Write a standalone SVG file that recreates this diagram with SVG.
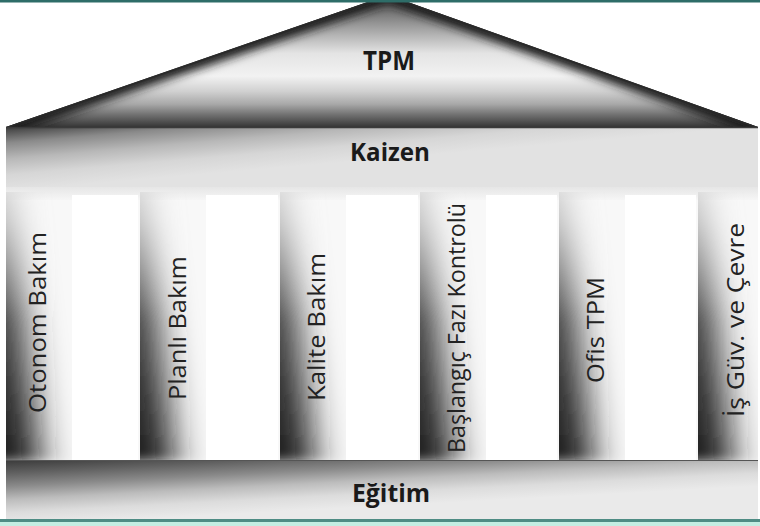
<svg xmlns="http://www.w3.org/2000/svg" width="760" height="526" viewBox="0 0 760 526">
  <style>
    .lbl { font-family: "Open Sans", "Noto Sans", "DejaVu Sans", sans-serif; font-size: 24px; fill: #222222; text-anchor: middle; }
    .hd { font-family: "Open Sans", "Noto Sans", "DejaVu Sans", sans-serif; font-weight: bold; fill: #1a1a1a; text-anchor: middle; }
    .shade { fill: url(#pillarShade); }
  </style>
  <defs>
    <linearGradient id="roofV" gradientUnits="userSpaceOnUse" x1="0" y1="0" x2="0" y2="127">
      <stop offset="0" stop-color="#555555"/>
      <stop offset="0.2" stop-color="#9a9a9a"/>
      <stop offset="0.42" stop-color="#e4e4e4"/>
      <stop offset="0.6" stop-color="#f2f2f2"/>
      <stop offset="0.72" stop-color="#d0d0d0"/>
      <stop offset="0.82" stop-color="#a8a8a8"/>
      <stop offset="0.9" stop-color="#737373"/>
      <stop offset="1" stop-color="#363636"/>
    </linearGradient>
    <clipPath id="roofClip">
      <polygon points="6,127 388,-5 758,127"/>
    </clipPath>
    <filter id="blur" filterUnits="userSpaceOnUse" x="-20" y="-40" width="800" height="200">
      <feGaussianBlur stdDeviation="5"/>
    </filter>

    <linearGradient id="kaizenG" gradientUnits="userSpaceOnUse" x1="6" y1="127" x2="11.43" y2="190.5">
      <stop offset="0" stop-color="#3c3c3c"/>
      <stop offset="0.25" stop-color="#8a8a8a"/>
      <stop offset="0.5" stop-color="#b8b8b8"/>
      <stop offset="0.75" stop-color="#d6d6d6"/>
      <stop offset="1" stop-color="#e2e2e2"/>
    </linearGradient>
    <linearGradient id="egitimG" gradientUnits="userSpaceOnUse" x1="6" y1="460" x2="9.48" y2="525.8">
      <stop offset="0" stop-color="#3a3a3a"/>
      <stop offset="0.2" stop-color="#606060"/>
      <stop offset="0.4" stop-color="#8a8a8a"/>
      <stop offset="0.6" stop-color="#bcbcbc"/>
      <stop offset="0.8" stop-color="#dcdcdc"/>
      <stop offset="1" stop-color="#eaeaea"/>
    </linearGradient>

    <linearGradient id="pillarShade" x1="0" y1="0" x2="0" y2="1">
      <stop offset="0" stop-color="#c8c8c8"/>
      <stop offset="0.11" stop-color="#b0b0b0"/>
      <stop offset="0.48" stop-color="#383838"/>
      <stop offset="1" stop-color="#1a1a1a"/>
    </linearGradient>
    <filter id="pBlur" filterUnits="userSpaceOnUse" x="-60" y="150" width="880" height="360">
      <feGaussianBlur stdDeviation="18 6"/>
    </filter>
    <clipPath id="c1"><rect x="6" y="192" width="66" height="268"/></clipPath>
    <clipPath id="c2"><rect x="140" y="192" width="66" height="268"/></clipPath>
    <clipPath id="c3"><rect x="280" y="192" width="66" height="268"/></clipPath>
    <clipPath id="c4"><rect x="420" y="192" width="66" height="268"/></clipPath>
    <clipPath id="c5"><rect x="559" y="192" width="66" height="268"/></clipPath>
    <clipPath id="c6"><rect x="698" y="192" width="60" height="268"/></clipPath>

    <linearGradient id="areaTop" gradientUnits="userSpaceOnUse" x1="0" y1="187" x2="0" y2="200">
      <stop offset="0" stop-color="#e6e6e6"/>
      <stop offset="1" stop-color="#f6f6f6"/>
    </linearGradient>
  </defs>

  <rect x="0" y="0" width="760" height="526" fill="#ffffff"/>

  <!-- Roof -->
  <g id="roof">
    <polygon points="6,127 388,-5 758,127" fill="url(#roofV)"/>
    <g clip-path="url(#roofClip)">
      <path d="M6,127 L388,-5 L758,127" fill="none" stroke="#1c1c1c" stroke-width="16" filter="url(#blur)"/>
      <path d="M6,127 L388,-5 L758,127" fill="none" stroke="#2a2a2a" stroke-width="3"/>
    </g>
    <text class="hd" x="389" y="70" font-size="26" textLength="52" lengthAdjust="spacingAndGlyphs">TPM</text>
  </g>

  <!-- Kaizen band -->
  <g id="kaizen">
    <rect x="6" y="127" width="752" height="60" fill="url(#kaizenG)"/>
    <line x1="6" y1="127.5" x2="758" y2="127.5" stroke="#3a3a3a" stroke-width="1.5"/>
    <text class="hd" x="390" y="161" font-size="25" textLength="80" lengthAdjust="spacingAndGlyphs">Kaizen</text>
  </g>

  <!-- Pillar area background -->
  <rect x="6" y="187" width="752" height="273" fill="#f8f8f8"/>
  <rect x="6" y="187" width="752" height="13" fill="url(#areaTop)"/>
  <rect x="72" y="195" width="66" height="265" fill="#ffffff"/>
  <rect x="206" y="195" width="72" height="265" fill="#ffffff"/>
  <rect x="346" y="195" width="72" height="265" fill="#ffffff"/>
  <rect x="486" y="195" width="71" height="265" fill="#ffffff"/>
  <rect x="625" y="195" width="71" height="265" fill="#ffffff"/>

  <g id="pillar-otonom">
    <g clip-path="url(#c1)"><polygon class="shade" points="-34,190 8,190 40,462 -34,462" filter="url(#pBlur)"/></g>
    <text class="lbl" transform="translate(46,322.5) rotate(-90)" textLength="181" lengthAdjust="spacingAndGlyphs">Otonom Bakım</text>
  </g>
  <g id="pillar-planli">
    <g clip-path="url(#c2)"><polygon class="shade" points="100,190 142,190 174,462 100,462" filter="url(#pBlur)"/></g>
    <text class="lbl" transform="translate(186,328) rotate(-90)" textLength="144" lengthAdjust="spacingAndGlyphs">Planlı Bakım</text>
  </g>
  <g id="pillar-kalite">
    <g clip-path="url(#c3)"><polygon class="shade" points="240,190 282,190 314,462 240,462" filter="url(#pBlur)"/></g>
    <text class="lbl" transform="translate(325,327) rotate(-90)" textLength="148" lengthAdjust="spacingAndGlyphs">Kalite Bakım</text>
  </g>
  <g id="pillar-baslangic">
    <g clip-path="url(#c4)"><polygon class="shade" points="380,190 422,190 454,462 380,462" filter="url(#pBlur)"/></g>
    <text class="lbl" transform="translate(465,328) rotate(-90)" textLength="250" lengthAdjust="spacingAndGlyphs">Başlangıç Fazı Kontrolü</text>
  </g>
  <g id="pillar-ofis">
    <g clip-path="url(#c5)"><polygon class="shade" points="519,190 561,190 593,462 519,462" filter="url(#pBlur)"/></g>
    <text class="lbl" transform="translate(604,330) rotate(-90)" textLength="106" lengthAdjust="spacingAndGlyphs">Ofis TPM</text>
  </g>
  <g id="pillar-isguv">
    <g clip-path="url(#c6)"><polygon class="shade" points="658,190 700,190 732,462 658,462" filter="url(#pBlur)"/></g>
    <text class="lbl" transform="translate(744,320) rotate(-90)" textLength="194" lengthAdjust="spacingAndGlyphs">İş Güv. ve Çevre</text>
  </g>

  <!-- Eğitim band -->
  <g id="egitim">
    <rect x="6" y="460" width="752" height="59" fill="url(#egitimG)"/>
    <line x1="6" y1="460.5" x2="758" y2="460.5" stroke="#555555" stroke-width="1.2"/>
    <text class="hd" x="391" y="502" font-size="25" textLength="78" lengthAdjust="spacingAndGlyphs">Eğitim</text>
  </g>

  <g id="connectors"/>

  <!-- Frame lines -->
  <rect x="0" y="0" width="760" height="2.5" fill="#2e6d68"/>
  <rect x="0" y="519" width="760" height="3" fill="#4e8c84"/>
  <rect x="0" y="522" width="760" height="4" fill="#c3eee2"/>
</svg>
